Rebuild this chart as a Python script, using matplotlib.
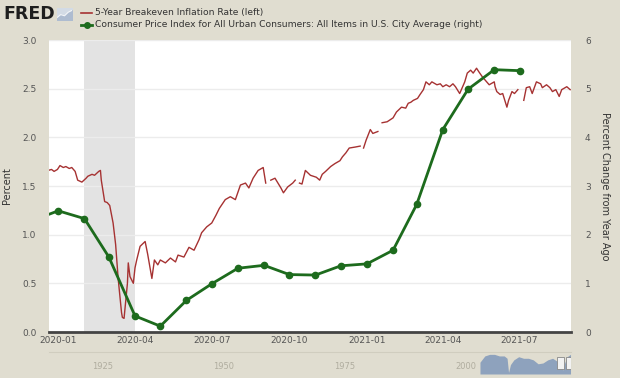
import matplotlib
matplotlib.use("Agg")
import matplotlib.pyplot as plt
import matplotlib.dates as mdates
import numpy as np
import pandas as pd

# 5-Year Breakeven Inflation Rate (left axis)
be_dates = [
    "2019-12-20", "2019-12-24", "2019-12-27", "2019-12-31", "2020-01-03", "2020-01-07",
    "2020-01-10", "2020-01-14", "2020-01-17", "2020-01-21", "2020-01-24", "2020-01-29",
    "2020-02-03", "2020-02-05", "2020-02-10", "2020-02-13", "2020-02-18", "2020-02-20",
    "2020-02-21", "2020-02-25", "2020-02-28", "2020-03-02", "2020-03-06", "2020-03-09",
    "2020-03-12", "2020-03-16", "2020-03-17", "2020-03-19", "2020-03-23", "2020-03-24",
    "2020-03-26", "2020-03-30", "2020-04-01", "2020-04-03", "2020-04-07", "2020-04-13",
    "2020-04-16", "2020-04-21", "2020-04-24", "2020-04-28", "2020-05-01", "2020-05-07",
    "2020-05-13", "2020-05-19", "2020-05-22", "2020-05-29", "2020-06-04", "2020-06-10",
    "2020-06-16", "2020-06-19", "2020-06-25", "2020-07-01", "2020-07-06", "2020-07-10",
    "2020-07-17", "2020-07-23", "2020-07-29", "2020-08-04", "2020-08-10", "2020-08-14",
    "2020-08-19", "2020-08-25", "2020-08-31", "2020-09-03", "2020-09-07", "2020-09-09",
    "2020-09-14", "2020-09-21", "2020-09-24", "2020-09-29", "2020-10-05", "2020-10-08",
    "2020-10-12", "2020-10-13", "2020-10-16", "2020-10-20", "2020-10-26", "2020-11-02",
    "2020-11-06", "2020-11-09", "2020-11-13", "2020-11-19", "2020-11-24", "2020-11-30",
    "2020-12-03", "2020-12-07", "2020-12-11", "2020-12-18", "2020-12-24", "2020-12-25",
    "2020-12-28", "2020-12-31", "2021-01-05", "2021-01-08", "2021-01-14", "2021-01-18",
    "2021-01-19", "2021-01-25", "2021-02-01", "2021-02-05", "2021-02-11", "2021-02-16",
    "2021-02-19", "2021-02-22", "2021-02-25", "2021-03-02", "2021-03-05", "2021-03-09",
    "2021-03-12", "2021-03-16", "2021-03-19", "2021-03-25", "2021-03-29", "2021-04-01",
    "2021-04-05", "2021-04-09", "2021-04-13", "2021-04-16", "2021-04-21", "2021-04-23",
    "2021-04-27", "2021-04-30", "2021-05-04", "2021-05-07", "2021-05-11", "2021-05-14",
    "2021-05-18", "2021-05-24", "2021-05-26", "2021-05-28", "2021-06-01", "2021-06-02",
    "2021-06-04", "2021-06-08", "2021-06-11", "2021-06-16", "2021-06-18", "2021-06-22",
    "2021-06-25", "2021-06-29", "2021-07-05", "2021-07-06", "2021-07-09", "2021-07-13",
    "2021-07-16", "2021-07-21", "2021-07-26", "2021-07-28", "2021-08-02", "2021-08-06",
    "2021-08-09", "2021-08-13", "2021-08-17", "2021-08-20", "2021-08-26", "2021-08-30",
]
be_values = [
    1.66, 1.67, 1.65, 1.67, 1.71, 1.69,
    1.70, 1.68, 1.69, 1.65, 1.56, 1.54,
    1.58, 1.60, 1.62, 1.61, 1.65, 1.66,
    1.56, 1.34, 1.33, 1.30, 1.12, 0.90,
    0.55, 0.20, 0.15, 0.14, 0.50, 0.71,
    0.57, 0.50, 0.66, 0.74, 0.88, 0.93,
    0.80, 0.55, 0.74, 0.69, 0.74, 0.71,
    0.76, 0.72, 0.79, 0.77, 0.87, 0.84,
    0.95, 1.02, 1.08, 1.12, 1.20, 1.27,
    1.36, 1.39, 1.36, 1.51, 1.53, 1.48,
    1.58, 1.66, 1.69, 1.53, np.nan, 1.56,
    1.58, 1.48, 1.43, 1.49, 1.53, 1.56,
    np.nan, 1.53, 1.52, 1.66, 1.61, 1.59,
    1.56, 1.62, 1.65, 1.70, 1.73, 1.76,
    1.80, 1.84, 1.89, 1.90, 1.91, np.nan,
    1.89, 1.97, 2.08, 2.04, 2.06, np.nan,
    2.15, 2.16, 2.20, 2.26, 2.31, 2.30,
    2.35, 2.36, 2.38, 2.40, 2.44, 2.49,
    2.57, 2.54, 2.57, 2.54, 2.55, 2.52,
    2.54, 2.52, 2.55, 2.52, 2.45, 2.49,
    2.57, 2.66, 2.69, 2.66, 2.71, 2.67,
    2.62, 2.56, 2.54, 2.55, 2.57, 2.52,
    2.47, 2.44, 2.45, 2.31, 2.38, 2.47,
    2.45, 2.49, np.nan, 2.38, 2.51, 2.52,
    2.45, 2.57, 2.55, 2.51, 2.54, 2.51,
    2.47, 2.49, 2.42, 2.49, 2.52, 2.49,
]

# CPI, percent change from year ago (right axis)
cpi_dates = [
    "2019-12-01", "2020-01-01", "2020-02-01", "2020-03-01", "2020-04-01", "2020-05-01",
    "2020-06-01", "2020-07-01", "2020-08-01", "2020-09-01", "2020-10-01", "2020-11-01",
    "2020-12-01", "2021-01-01", "2021-02-01", "2021-03-01", "2021-04-01", "2021-05-01",
    "2021-06-01", "2021-07-01",
]
cpi_values = [2.29, 2.49, 2.33, 1.54, 0.33, 0.12, 0.65, 0.99, 1.31, 1.37, 1.18, 1.17,
              1.36, 1.40, 1.68, 2.62, 4.16, 4.99, 5.39, 5.37]

left_ticks = [0.0, 0.5, 1.0, 1.5, 2.0, 2.5, 3.0]
right_ticks = [0, 1, 2, 3, 4, 5, 6]
recession = ("2020-02-01", "2020-04-01")

# navigator strip at the bottom
nav_years = [2003, 2004, 2005, 2006, 2007, 2008, 2008.6, 2008.9, 2009.3, 2010, 2011, 2012,
             2013, 2014, 2015, 2016, 2017, 2018, 2019, 2020.2, 2020.5, 2021, 2021.7]
nav_values = [1.5, 2.3, 2.5, 2.5, 2.3, 2.3, 2.0, 0.2, 1.2, 1.8, 2.2, 2.0,
              2.0, 1.8, 1.3, 1.4, 1.8, 2.0, 1.6, 0.5, 1.4, 2.2, 2.5]
nav_labels = [1925, 1950, 1975, 2000]

bg = "#e0ddd0"
red = "#a63232"
green = "#1d6b1d"
grey_txt = "#555555"

fig = plt.figure(figsize=(6.2, 3.78), dpi=100, facecolor=bg)
ax = fig.add_axes([49 / 620, 46 / 378, 522 / 620, 292 / 378])
ax.set_facecolor("white")

be_x = pd.to_datetime(be_dates)
cpi_x = pd.to_datetime(cpi_dates)

ax.axvspan(pd.Timestamp(recession[0]), pd.Timestamp(recession[1]), color="#e3e3e3", lw=0, zorder=0)
for t in left_ticks[1:]:
    ax.axhline(t, color="#ececec", lw=1, zorder=0.5)

ax.plot(be_x, be_values, color=red, lw=1.0, zorder=2)
ax.set_ylim(0, 3)
ax.set_yticks(left_ticks)
ax.set_yticklabels(["%.1f" % t for t in left_ticks])
ax.set_xlim(pd.Timestamp("2019-12-21"), pd.Timestamp("2021-08-31"))
ax.xaxis.set_major_locator(mdates.MonthLocator(bymonth=[1, 4, 7, 10]))
ax.xaxis.set_major_formatter(mdates.DateFormatter("%Y-%m"))

ax2 = ax.twinx()
ax2.plot(cpi_x, cpi_values, color=green, lw=2, marker="o", ms=4.5, zorder=3)
ax2.set_ylim(0, 6)
ax2.set_yticks(right_ticks)

for a in (ax, ax2):
    for s in a.spines.values():
        s.set_visible(False)
    a.tick_params(length=0, labelsize=6.5, labelcolor=grey_txt)
ax.tick_params(axis="y", pad=9)
ax2.tick_params(axis="y", pad=10)
ax.tick_params(axis="x", pad=3)
ax.axhline(0, color="#444444", lw=2, zorder=4, clip_on=False)

ax.set_ylabel("Percent", fontsize=7, color="#333333")
ax.yaxis.set_label_coords(-37 / 522, 0.5)
ax2.set_ylabel("Percent Change from Year Ago", fontsize=7, color="#333333",
               rotation=-90, labelpad=14)

# header: logo + legend
fig.text(3 / 620, 1 - 14 / 378, "FRED", fontsize=12.5, fontweight="heavy", color="#1e1e1e",
         va="center", ha="left")
icon = fig.add_axes([57 / 620, 1 - 20 / 378, 15 / 620, 12 / 378])
icon.fill_between([0, 4], [4, 4], color="#d3dbe5")
icon.fill_between([0, 1, 2, 3, 4], [0.8, 1.8, 1.4, 2.6, 3.2], color="#aebcd0")
icon.plot([0, 1, 2, 3, 4], [0.8, 1.8, 1.4, 2.6, 3.2], color="#f4f6f8", lw=0.8)
icon.set_xlim(0, 4)
icon.set_ylim(0, 4)
icon.axis("off")

fig.lines.append(plt.Line2D([81 / 620, 92 / 620], [1 - 13 / 378, 1 - 13 / 378],
                            transform=fig.transFigure, color=red, lw=1.2))
fig.lines.append(plt.Line2D([81 / 620, 86.5 / 620, 92 / 620], [1 - 24.5 / 378] * 3,
                            transform=fig.transFigure, color=green, lw=2,
                            marker="o", ms=4, markevery=[1]))
fig.text(95 / 620, 1 - 13 / 378, "5-Year Breakeven Inflation Rate (left)", fontsize=6.6,
         color="#333333", va="center")
fig.text(95 / 620, 1 - 24.5 / 378,
         "Consumer Price Index for All Urban Consumers: All Items in U.S. City Average (right)",
         fontsize=6.6, color="#333333", va="center")

# navigator
nav = fig.add_axes([49 / 620, 4 / 378, 522 / 620, 22 / 378])
nav.set_facecolor("none")
nav.fill_between(nav_years, nav_values, color="#8ea2bd", lw=0, zorder=2)
nav.set_xlim(1914, 2021.8)
nav.set_ylim(0, 2.8)
for yr in nav_labels:
    nav.text(yr, 0.9, str(yr), fontsize=6, color="#b0ad9f", ha="center", va="center", zorder=1)
nav.plot([1914, 2021.8], [2.8, 2.8], color="#d0cdbf", lw=0.8, clip_on=False)
for hx in (2019.6, 2021.4):
    nav.add_patch(plt.Rectangle((hx - 0.7, 0.6), 1.4, 1.6, facecolor="#f2f2f2",
                                edgecolor="#888888", lw=0.6, zorder=3))
nav.axis("off")

fig.savefig("out.png", dpi=100, facecolor=bg)
